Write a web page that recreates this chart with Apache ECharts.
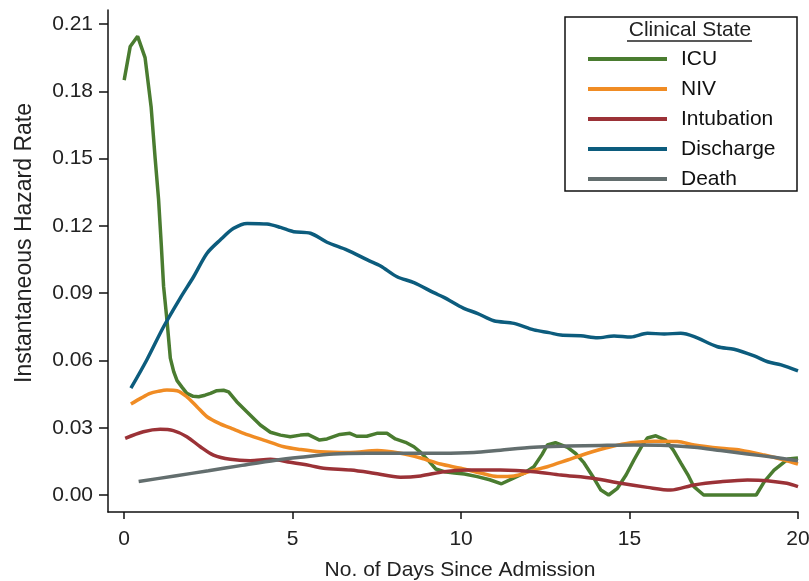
<!DOCTYPE html>
<html>
<head>
<meta charset="utf-8">
<script src="https://cdn.jsdelivr.net/npm/echarts@6/dist/echarts.min.js"></script>
<style>
  html, body { margin: 0; padding: 0; background: #fff; }
  #main { width: 809px; height: 581px; }
</style>
</head>
<body>
<div id="main"></div>
<script>
var myChart = echarts.init(document.getElementById('main'));

// values (days, hazard rate)
var icuDays = [0, 0.18, 0.40, 0.62, 0.80, 0.92, 1.02, 1.10, 1.17, 1.27, 1.37, 1.47, 1.57, 1.72, 1.86, 2.05, 2.21, 2.40, 2.56, 2.75, 2.95, 3.10, 3.34, 3.64, 4.04, 4.34, 4.64, 4.93, 5.23, 5.45, 5.80, 6.02, 6.40, 6.70, 6.90, 7.20, 7.50, 7.80, 8.05, 8.35, 8.60, 8.80, 9.05, 9.25, 9.50, 9.80, 10.10, 10.48, 10.85, 11.20, 11.57, 11.90, 12.16, 12.40, 12.56, 12.80, 13.16, 13.40, 13.65, 13.90, 14.15, 14.38, 14.64, 14.90, 15.13, 15.35, 15.53, 15.78, 16.07, 16.30, 16.52, 16.75, 16.91, 17.20, 18.76, 19.00, 19.29, 19.70, 20.00];
var icuRate = [0.185, 0.200, 0.2045, 0.195, 0.173, 0.150, 0.132, 0.112, 0.093, 0.078, 0.061, 0.055, 0.051, 0.048, 0.0453, 0.0440, 0.0438, 0.0445, 0.0453, 0.0465, 0.0467, 0.0460, 0.0416, 0.0371, 0.0312, 0.0280, 0.0267, 0.0260, 0.0267, 0.0270, 0.0245, 0.0250, 0.0270, 0.0275, 0.0262, 0.0262, 0.0275, 0.0275, 0.0250, 0.0235, 0.0215, 0.0190, 0.0150, 0.0116, 0.0104, 0.0098, 0.0094, 0.0082, 0.0068, 0.0050, 0.0076, 0.0100, 0.0126, 0.0180, 0.0223, 0.0233, 0.0212, 0.0185, 0.0143, 0.0085, 0.0022, 0.0000, 0.0030, 0.0090, 0.0156, 0.0215, 0.0254, 0.0264, 0.0245, 0.0200, 0.0143, 0.0085, 0.0037, 0.0000, 0.0000, 0.0060, 0.0111, 0.0160, 0.0165];

var nivDays = [0.20, 0.50, 0.77, 1.00, 1.27, 1.57, 1.86, 2.16, 2.46, 2.85, 3.20, 3.55, 4.14, 4.74, 5.23, 5.82, 6.72, 7.51, 8.20, 8.80, 9.39, 9.99, 10.58, 11.08, 11.57, 12.16, 12.56, 13.16, 13.75, 14.44, 15.04, 15.73, 16.42, 16.92, 17.71, 18.30, 19.00, 19.59, 20.00];
var nivRate = [0.0406, 0.0432, 0.0453, 0.0462, 0.0468, 0.0465, 0.0438, 0.0394, 0.0349, 0.0317, 0.0296, 0.0275, 0.0245, 0.0215, 0.0203, 0.0193, 0.0190, 0.0198, 0.0186, 0.0165, 0.0138, 0.0119, 0.0098, 0.0082, 0.0085, 0.0111, 0.0126, 0.0156, 0.0186, 0.0215, 0.0233, 0.0240, 0.0238, 0.0223, 0.0208, 0.0200, 0.0178, 0.0156, 0.0138];

var intubDays = [0.03, 0.57, 1.07, 1.46, 1.86, 2.26, 2.65, 3.15, 3.74, 4.34, 4.93, 5.53, 5.92, 6.72, 7.41, 8.20, 8.80, 9.49, 10.18, 11.17, 12.16, 12.96, 13.95, 14.74, 15.53, 16.22, 16.92, 17.71, 18.50, 19.08, 19.67, 20.00];
var intubRate = [0.0253, 0.0282, 0.0293, 0.0287, 0.0260, 0.0215, 0.0178, 0.0159, 0.0153, 0.0159, 0.0146, 0.0131, 0.0119, 0.0111, 0.0097, 0.0079, 0.0085, 0.0104, 0.0111, 0.0111, 0.0104, 0.0089, 0.0074, 0.0052, 0.0034, 0.0022, 0.0045, 0.0059, 0.0067, 0.0064, 0.0052, 0.0037];

var dischDays = [0.20, 0.67, 1.17, 1.66, 2.06, 2.46, 2.85, 3.25, 3.65, 4.24, 4.64, 5.03, 5.53, 6.02, 6.62, 7.22, 7.61, 8.10, 8.60, 9.19, 9.49, 10.08, 10.48, 10.97, 11.57, 12.16, 12.61, 12.96, 13.55, 14.05, 14.54, 15.04, 15.53, 16.03, 16.52, 16.92, 17.61, 18.10, 18.70, 19.10, 19.50, 20.00];
var dischRate = [0.0476, 0.0602, 0.0750, 0.0877, 0.0973, 0.1078, 0.1137, 0.1189, 0.1211, 0.1208, 0.1193, 0.1174, 0.1167, 0.1127, 0.1092, 0.1048, 0.1021, 0.0973, 0.0947, 0.0902, 0.0881, 0.0832, 0.0810, 0.0777, 0.0765, 0.0736, 0.0724, 0.0713, 0.0710, 0.0701, 0.0709, 0.0704, 0.0721, 0.0718, 0.0721, 0.0706, 0.0661, 0.0650, 0.0620, 0.0594, 0.0580, 0.0553];

var deathDays = [0.43, 1.50, 2.50, 3.50, 4.50, 5.23, 6.22, 7.22, 8.20, 9.39, 10.38, 11.17, 12.16, 13.16, 14.15, 15.13, 16.12, 16.92, 17.71, 18.50, 19.29, 20.00];
var deathRate = [0.0060, 0.0085, 0.0108, 0.0132, 0.0155, 0.0168, 0.0183, 0.0186, 0.0186, 0.0186, 0.0189, 0.0200, 0.0213, 0.0218, 0.0221, 0.0223, 0.0221, 0.0213, 0.0198, 0.0183, 0.0168, 0.0153];

var xTicks = [0, 5, 10, 15, 20];
var yTicks = [0, 0.03, 0.06, 0.09, 0.12, 0.15, 0.18, 0.21];

function pairs(xs, ys) {
    return xs.map(function (x, i) { return [x, ys[i]]; });
}

var font = '"Liberation Sans", Arial, sans-serif';

function line(name, color, xs, ys, smooth) {
    return {
        name: name,
        type: 'line',
        data: pairs(xs, ys),
        showSymbol: false,
        smooth: smooth,
        lineStyle: { color: color, width: 3.5 },
        itemStyle: { color: color }
    };
}

option = {
    animation: false,
    backgroundColor: '#fff',
    grid: { left: 108, right: 11, top: 10, bottom: 69, outerBoundsMode: 'none' },
    xAxis: {
        type: 'value',
        min: -0.48,
        max: 20,
        name: 'No. of Days Since Admission',
        nameLocation: 'middle',
        nameGap: 48,
        nameTextStyle: { fontSize: 21, fontFamily: font, color: '#222', padding: [0, 0, 0, 14] },
        axisLine: { show: true, onZero: false, lineStyle: { color: '#111', width: 1.5 } },
        axisTick: { show: true, length: 7, customValues: xTicks, lineStyle: { color: '#111', width: 1.5 } },
        axisLabel: { customValues: xTicks, fontSize: 21, fontFamily: font, color: '#222', margin: 17 },
        splitLine: { show: false }
    },
    yAxis: {
        type: 'value',
        min: -0.00758,
        max: 0.21624,
        name: 'Instantaneous Hazard Rate',
        nameLocation: 'middle',
        nameGap: 72,
        nameTextStyle: { fontSize: 23, fontFamily: font, color: '#222', padding: [0, 0, 0, 36] },
        axisLine: { show: true, onZero: false, lineStyle: { color: '#111', width: 1.5 } },
        axisTick: { show: true, length: 9, customValues: yTicks, lineStyle: { color: '#111', width: 1.5 } },
        axisLabel: {
            customValues: yTicks,
            fontSize: 21, fontFamily: font, color: '#222', margin: 15,
            formatter: function (v) { return v.toFixed(2); }
        },
        splitLine: { show: false }
    },
    legend: {
        orient: 'vertical',
        left: 583,
        top: 39,
        icon: 'rect',
        itemWidth: 79,
        itemHeight: 4,
        itemGap: 0,
        textStyle: { fontSize: 21, fontFamily: font, color: '#111', lineHeight: 30, padding: [0, 0, 0, 9] },
        data: ['ICU', 'NIV', 'Intubation', 'Discharge', 'Death']
    },
    graphic: [
        {
            type: 'rect',
            shape: { x: 565, y: 17, width: 232, height: 174 },
            style: { fill: 'none', stroke: '#111', lineWidth: 1.5 }
        },
        {
            type: 'text',
            style: {
                text: 'Clinical State', x: 690, y: 30,
                textAlign: 'center', textVerticalAlign: 'middle',
                fontSize: 21, fontFamily: font, fill: '#222'
            }
        },
        {
            type: 'line',
            shape: { x1: 627, y1: 41, x2: 752, y2: 41 },
            style: { stroke: '#222', lineWidth: 1.5 }
        }
    ],
    series: [
        line('ICU', '#4a7c30', icuDays, icuRate, false),
        line('NIV', '#f08c24', nivDays, nivRate, 0.3),
        line('Intubation', '#9b3237', intubDays, intubRate, 0.3),
        line('Discharge', '#0c5c7d', dischDays, dischRate, 0.3),
        line('Death', '#636e6e', deathDays, deathRate, 0.3)
    ]
};
myChart.setOption(option);
</script>
</body>
</html>
